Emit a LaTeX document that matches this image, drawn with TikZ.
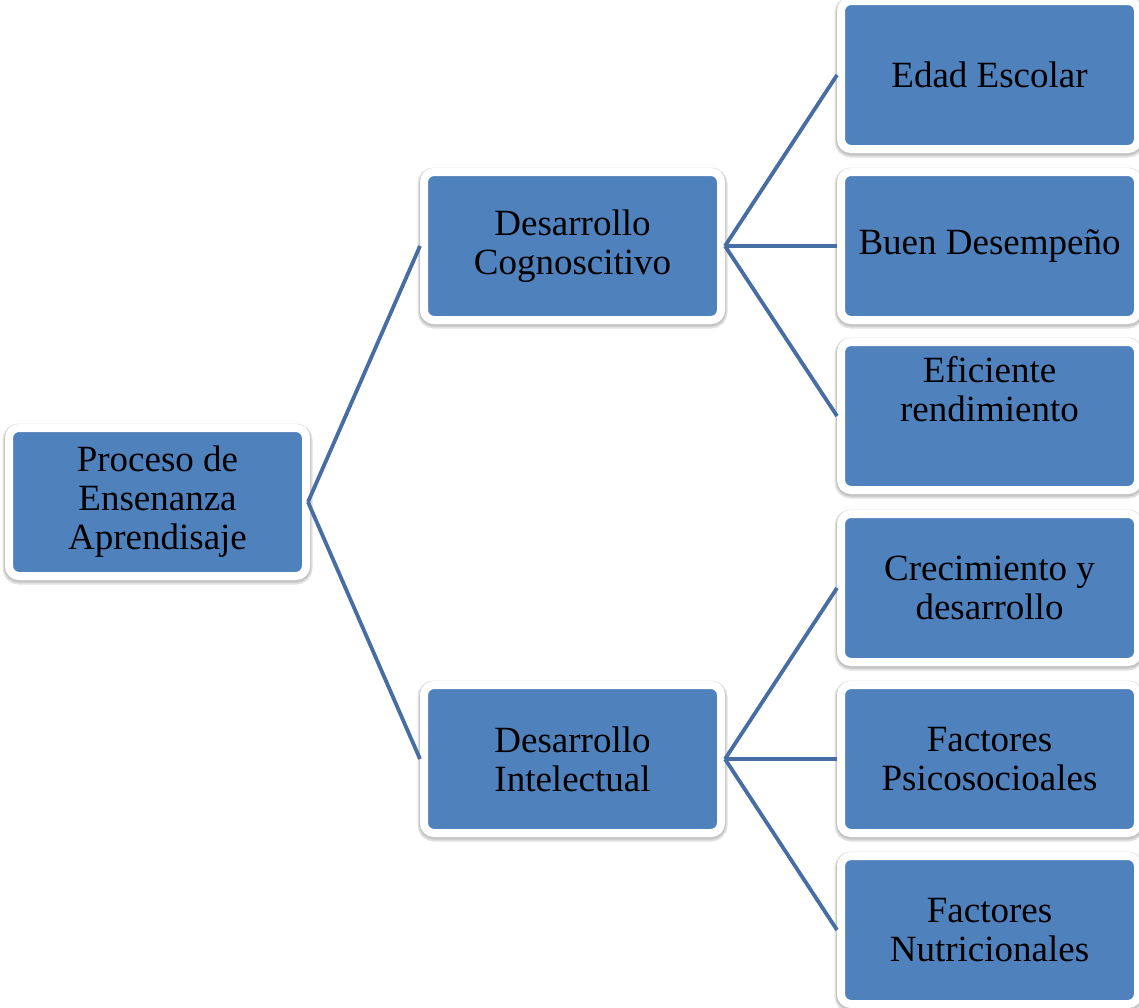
\documentclass[tikz,border=0pt]{standalone}
\usepackage{fontspec}
\setmainfont{Liberation Serif}
\usetikzlibrary{backgrounds}
\definecolor{boxblue}{HTML}{4F81BD}
\definecolor{lineblue}{HTML}{466DA4}
\tikzset{
  box/.style={rectangle, rounded corners=10pt, fill=boxblue, draw=white, line width=8pt,
    minimum width=297pt, minimum height=148pt, inner sep=0pt,
    preaction={draw=black, line width=13pt, opacity=0.12, transform canvas={yshift=-2pt}},
    preaction={draw=black, line width=10pt, opacity=0.12, transform canvas={yshift=-1.5pt}},
    align=center, font=\fontsize{37}{39}\selectfont, text=black},
  conn/.style={draw=lineblue, line width=3.8pt}
}
\begin{document}
\begin{tikzpicture}[x=1pt,y=-1pt]
\useasboundingbox (0,0) rectangle (1139,1007);
\node[box] (root) at (157.5,502) {Proceso de\\Ensenanza\\Aprendisaje};
\node[box] (cog) at (572.5,246) {Desarrollo\\Cognoscitivo};
\node[box] (int) at (572.5,759) {Desarrollo\\Intelectual};
\node[box] (edad) at (989.5,75) {Edad Escolar};
\node[box] (buen) at (989.5,246) {Buen Desempeño};
\node[box] (efic) at (989.5,416) {};
\node[align=center, font=\fontsize{37}{39}\selectfont, inner sep=0pt] (eficT) at (989.5,389) {Eficiente\\rendimiento};
\node[box] (crec) at (989.5,588) {Crecimiento y\\desarrollo};
\node[box] (psico) at (989.5,759) {Factores\\Psicosocioales};
\node[box] (nutri) at (989.5,930) {Factores\\Nutricionales};
\draw[conn] ([xshift=-2pt]root.east) -- (cog.west);
\draw[conn] ([xshift=-2pt]root.east) -- (int.west);
\draw[conn] (cog.east) -- (edad.west);
\draw[conn] (cog.east) -- (buen.west);
\draw[conn] (cog.east) -- (efic.west);
\draw[conn] (int.east) -- (crec.west);
\draw[conn] (int.east) -- (psico.west);
\draw[conn] (int.east) -- (nutri.west);
\end{tikzpicture}
\end{document}
